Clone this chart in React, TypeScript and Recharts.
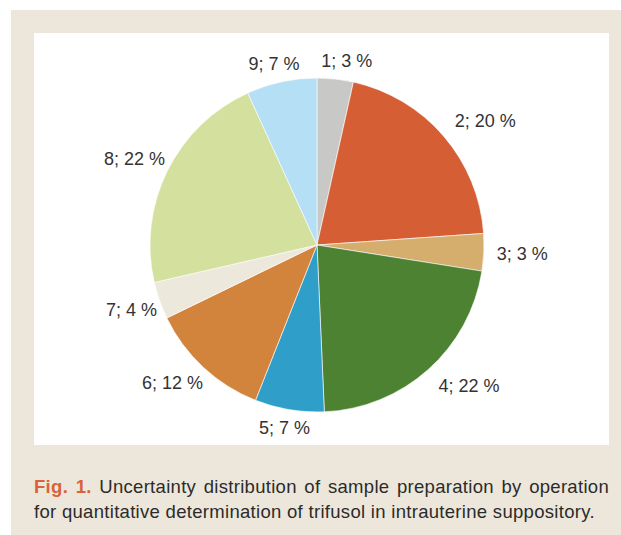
import { Cell, Pie, PieChart } from "recharts";

const CATEGORIES = ["1", "2", "3", "4", "5", "6", "7", "8", "9"];
const SHARES = [3.5, 20.4, 3.6, 21.8, 6.7, 11.8, 3.6, 21.8, 6.8];
// rounded percentages printed in the labels
const SHARE_LABELS = [3, 20, 3, 22, 7, 12, 4, 22, 7];
const COLORS = [
  "#c8c8c6",
  "#d55e35",
  "#d5ad6d",
  "#4e8233",
  "#2f9ec9",
  "#d3843c",
  "#ede8dc",
  "#d4e09e",
  "#b4dff4",
];

const FONT = "'Liberation Sans', Arial, sans-serif";
const LABEL_SIZE = 18;
const BEIGE = "#ede7db";

const data = CATEGORIES.map((name, i) => ({ name, value: SHARES[i], pct: SHARE_LABELS[i] }));

function textWidth(text: string, size: number) {
  let w = 0;
  for (const c of text) w += /[0-9]/.test(c) ? 0.556 : c === "%" ? 0.889 : 0.278;
  return w * size;
}

const clamp = (v: number) => Math.max(-1, Math.min(1, v));

// Excel-like "outside end": anchor just past the rim, box hangs off it away from the pie
function renderLabel(props: any) {
  const { cx, cy, midAngle, outerRadius, index } = props;
  const text = `${CATEGORIES[index]}; ${SHARE_LABELS[index]} %`;
  const rad = (-midAngle * Math.PI) / 180;
  const ux = Math.cos(rad);
  const uy = Math.sin(rad);
  const w = textWidth(text, LABEL_SIZE);
  const h = 20;
  const r = outerRadius + 8;
  const x = cx + r * ux + (w / 2) * clamp(ux * 2) + 5;
  const y = cy + r * uy + (h / 2) * clamp(uy * 2);
  return (
    <text
      x={x}
      y={y}
      textAnchor="middle"
      dominantBaseline="central"
      fill="#333333"
      fontSize={LABEL_SIZE}
      fontFamily={FONT}
    >
      {text}
    </text>
  );
}

export default function App() {
  return (
    <div style={{ position: "absolute", left: 0, top: 0, width: 621, height: 535, background: "#fff" }}>
      <div style={{ position: "absolute", left: 11, top: 10, width: 610, height: 525, background: BEIGE }} />
      <div style={{ position: "absolute", left: 34, top: 33, width: 575, height: 412, background: "#fff" }}>
        <PieChart width={575} height={412} margin={{ top: 0, right: 0, bottom: 0, left: 0 }}>
          <Pie
            data={data}
            dataKey="value"
            nameKey="name"
            cx={283}
            cy={212}
            outerRadius={167}
            startAngle={90}
            endAngle={-270}
            stroke="#ffffff"
            strokeWidth={0.6}
            label={renderLabel}
            labelLine={false}
            isAnimationActive={false}
          >
            {data.map((d, i) => (
              <Cell key={d.name} fill={COLORS[i]} />
            ))}
          </Pie>
        </PieChart>
      </div>
      <div
        style={{
          position: "absolute",
          left: 34,
          top: 474,
          width: 575,
          fontFamily: "'Liberation Sans Narrow', " + FONT,
          fontSize: 18.5,
          letterSpacing: 0.3,
          lineHeight: "25px",
          color: "#2b2b2b",
        }}
      >
        <div style={{ textAlign: "justify", textAlignLast: "justify", whiteSpace: "nowrap" }}>
          <span style={{ color: "#d9623b", fontWeight: "bold" }}>Fig. 1.</span> Uncertainty distribution of sample
          preparation by operation
        </div>
        <div style={{ whiteSpace: "nowrap" }}>
          for quantitative determination of trifusol in intrauterine suppository.
        </div>
      </div>
    </div>
  );
}
